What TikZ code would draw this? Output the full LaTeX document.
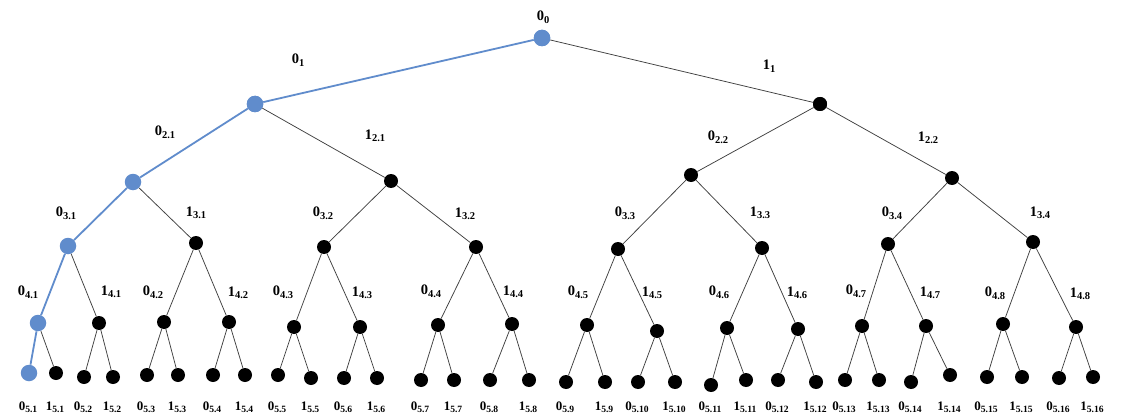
\documentclass[tikz,border=0pt]{standalone}
\usepackage{fontspec}
\setmainfont{Liberation Serif}
\definecolor{pathblue}{RGB}{96,140,204}
\newcommand{\elab}[2]{\textbf{#1}\raisebox{-0.38ex}{\fontsize{10.5}{12}\selectfont\bfseries #2}}
\newcommand{\llab}[2]{\textbf{#1}\raisebox{-0.38ex}{\fontsize{9.6}{11}\selectfont\bfseries #2}}
\begin{document}
\begin{tikzpicture}[x=1pt,y=-1pt,
  bnode/.style={circle,fill=black,inner sep=0pt,minimum size=14pt},
  pnode/.style={circle,fill=pathblue,inner sep=0pt,minimum size=16.5pt},
  edge/.style={draw=black!75,line width=0.75pt},
  pedge/.style={draw=pathblue,line width=1.8pt},
  lab/.style={font=\fontsize{14.5}{16}\selectfont,inner sep=0pt},
  leaflab/.style={font=\fontsize{13}{15}\selectfont,inner sep=0pt}]
\fill[white] (0,0) rectangle (1132,417);
\useasboundingbox (0,0) rectangle (1132,417);
% nodes
\node[pnode] (R) at (542,38) {};
\node[pnode] (A1) at (255,104) {};
\node[bnode] (A2) at (820,104) {};
\foreach \x/\y/\s [count=\i] in {133/182/pnode,391/181/bnode,691/175/bnode,952/178/bnode}
  \node[\s] (B\i) at (\x,\y) {};
\foreach \x/\y/\s [count=\i] in {68/246/pnode,196/243/bnode,324/247/bnode,476/247/bnode,618/249/bnode,762/248/bnode,888/244/bnode,1033/242/bnode}
  \node[\s] (C\i) at (\x,\y) {};
\foreach \x/\y/\s [count=\i] in {38/323/pnode,99/323/bnode,164/322/bnode,229/322/bnode,294/327/bnode,360/327/bnode,438/325/bnode,512/324/bnode,587/325/bnode,657/331/bnode,727/328/bnode,798/329/bnode,862/326/bnode,926/326/bnode,1003/324/bnode,1076/327/bnode}
  \node[\s] (D\i) at (\x,\y) {};
\foreach \x/\y/\s [count=\i] in {29/373/pnode,56/373/bnode,84/377/bnode,113/377/bnode,147/375/bnode,178/375/bnode,213/375/bnode,245/375/bnode,278/375/bnode,311/378/bnode,344/378/bnode,377/378/bnode,421/380/bnode,454/380/bnode,490/380/bnode,529/380/bnode,566/382/bnode,605/382/bnode,638/382/bnode,675/382/bnode,711/385/bnode,746/380/bnode,778/380/bnode,816/382/bnode,845/380/bnode,879/380/bnode,911/382/bnode,950/375/bnode,987/377/bnode,1022/377/bnode,1059/378/bnode,1093/377/bnode}{
  \node[\s] (E\i) at (\x,\y) {};
  \pgfmathtruncatemacro\k{(\i+1)/2}
  \pgfmathtruncatemacro\b{1-mod(\i,2)}
  \node[leaflab] (EL\i) at (\x-1,407) {\llab{\b}{5.\k}};
}
% edges
\draw[pedge] (R) -- (A1);
\draw[edge] (R) -- (A2);
\draw[pedge] (A1) -- (B1);
\draw[edge] (A1) -- (B2);
\draw[edge] (A2) -- (B3);
\draw[edge] (A2) -- (B4);
\draw[pedge] (B1) -- (C1);
\foreach \j/\c in {1/2,2/3,2/4,3/5,3/6,4/7,4/8}
  \draw[edge] (B\j) -- (C\c);
\draw[pedge] (C1) -- (D1);
\foreach \j in {1,...,8}{
  \pgfmathtruncatemacro\l{2*\j-1}
  \pgfmathtruncatemacro\r{2*\j}
  \ifnum\j>1 \draw[edge] (C\j) -- (D\l); \fi
  \draw[edge] (C\j) -- (D\r);
}
\draw[pedge] (D1) -- (E1);
\foreach \j in {1,...,16}{
  \pgfmathtruncatemacro\l{2*\j-1}
  \pgfmathtruncatemacro\r{2*\j}
  \ifnum\j>1 \draw[edge] (D\j) -- (E\l); \fi
  \draw[edge] (D\j) -- (E\r);
}
% edge labels
\node[lab] (l0) at (543,17) {\elab{0}{0}};
\node[lab] (l1a) at (298,60) {\elab{0}{1}};
\node[lab] (l1b) at (769,66) {\elab{1}{1}};
\foreach \x/\y/\a/\t [count=\i] in {165/132/0/2.1,375/136/1/2.1,718/137/0/2.2,928/138/1/2.2}
  \node[lab] (l2-\i) at (\x,\y) {\elab{\a}{\t}};
\foreach \x/\y/\a/\t [count=\i] in {66/213/0/3.1,196/213/1/3.1,323/213/0/3.2,465/214/1/3.2,625/213/0/3.3,760/213/1/3.3,892/213/0/3.4,1040/213/1/3.4}
  \node[lab] (l3-\i) at (\x,\y) {\elab{\a}{\t}};
\foreach \x/\y/\a/\t [count=\i] in {28/292/0/4.1,111/292/1/4.1,153/292/0/4.2,238/293/1/4.2,283/292/0/4.3,362/293/1/4.3,431/291/0/4.4,513/292/1/4.4,578/292/0/4.5,652/293/1/4.5,719/292/0/4.6,797/293/1/4.6,856/291/0/4.7,930/293/1/4.7,995/293/0/4.8,1080/294/1/4.8}
  \node[lab] (l4-\i) at (\x,\y) {\elab{\a}{\t}};
% redraw top nodes over the edges
\foreach \n in {R,A1}
  \fill[pathblue] (\n) circle (8.25pt);
\fill[black] (A2) circle (7pt);
\end{tikzpicture}
\end{document}
